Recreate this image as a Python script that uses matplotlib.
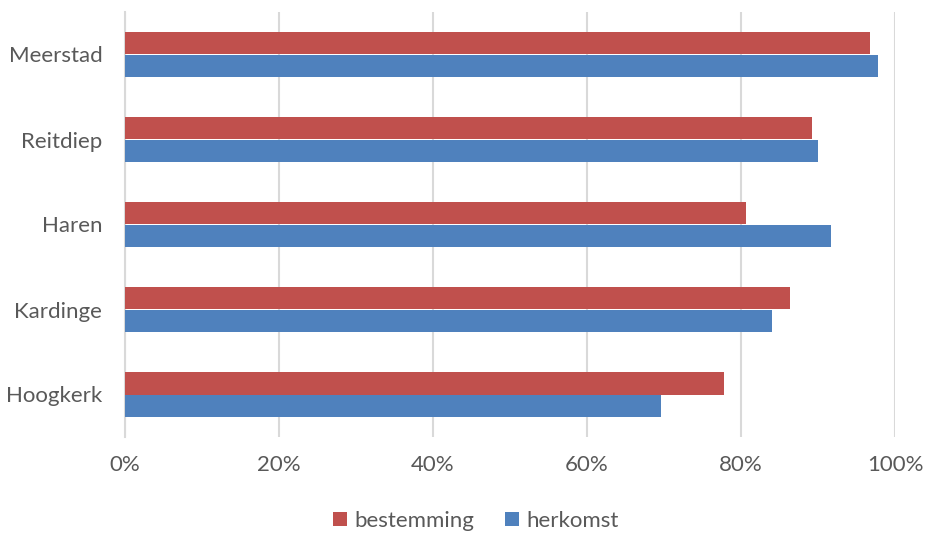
import matplotlib
matplotlib.use("Agg")
import matplotlib.pyplot as plt
import numpy as np
from matplotlib.ticker import FuncFormatter

categories = ["Meerstad", "Reitdiep", "Haren", "Kardinge", "Hoogkerk"]
bestemming = [96.8, 89.2, 80.7, 86.4, 77.8]
herkomst = [97.8, 90.0, 91.7, 84.0, 69.6]
xticks = [0, 20, 40, 60, 80, 100]

plt.rcParams['font.family'] = ['Lato', 'DejaVu Sans']
text_color = "#595959"
red = "#C0504D"
blue = "#4F81BD"

fig = plt.figure(figsize=(9.25, 5.34), dpi=100)
ax = fig.add_axes([124.5/925, 1-437/534, (895-124.5)/925, (437-12)/534])

y = np.arange(len(categories))
h = 0.26
ax.barh(y - h/2, bestemming, height=h, color=red, label="bestemming", zorder=3)
ax.barh(y + h/2, herkomst, height=h, color=blue, label="herkomst", zorder=3)

ax.set_ylim(len(categories) - 0.5, -0.5)
ax.set_xlim(0, 100)
ax.set_yticks(y)
ax.set_yticklabels(categories)
ax.set_xticks(xticks)
ax.xaxis.set_major_formatter(FuncFormatter(lambda v, p: f"{int(v)}%"))
ax.tick_params(axis='both', length=0, labelsize=16, labelcolor=text_color)
ax.tick_params(axis='x', pad=13)
ax.tick_params(axis='y', pad=16)
ax.grid(axis='x', color="#D9D9D9", linewidth=1.5, zorder=0)
for s in ["top", "right", "bottom"]:
    ax.spines[s].set_visible(False)
ax.spines["left"].set_color("#D9D9D9")
ax.spines["left"].set_linewidth(1.5)

leg = fig.legend(loc="center", bbox_to_anchor=(476/925, 1-521/534), ncol=2, frameon=False,
                 fontsize=16, handlelength=0.6, handleheight=0.6, columnspacing=1.4, handletextpad=0.35)
for t in leg.get_texts():
    t.set_color(text_color)

fig.savefig("out.png", dpi=100)
